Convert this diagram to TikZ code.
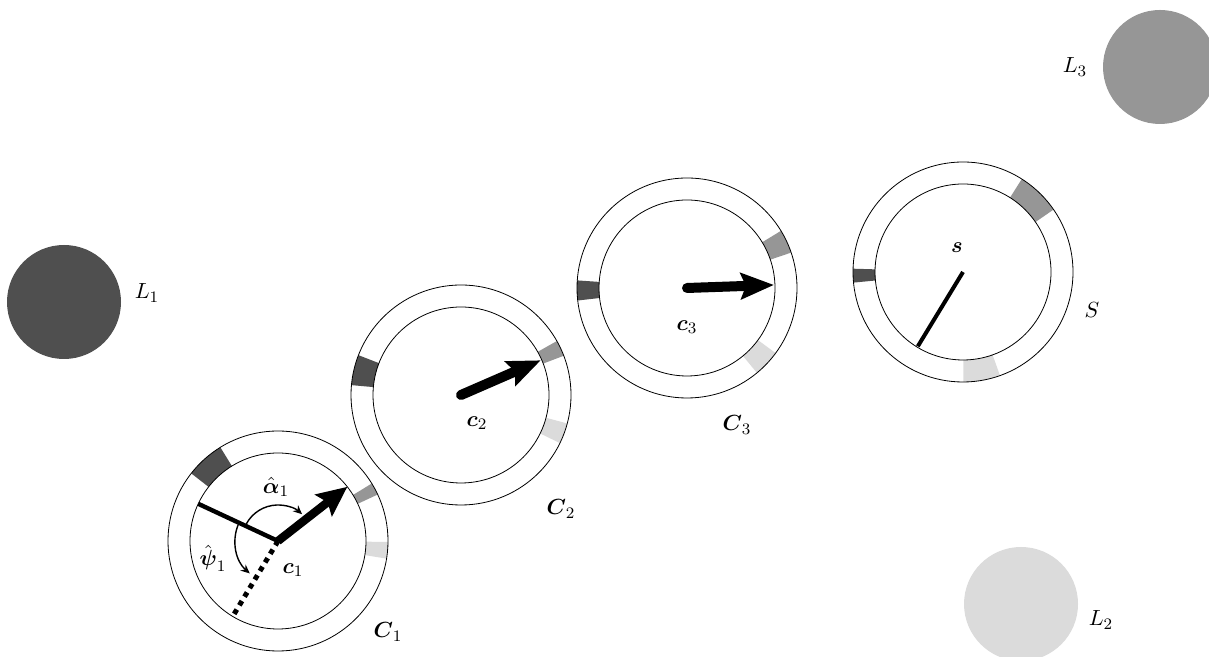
\documentclass[tikz,border=0pt]{standalone}
\usepackage{amsmath,amssymb}
\usetikzlibrary{arrows.meta,calc}

\definecolor{lampA}{gray}{0.31}
\definecolor{lampB}{gray}{0.59}
\definecolor{lampC}{gray}{0.86}

% coloured sector of a camera ring: the angular extent of a lamp (radius 57)
% as seen from the camera centre, drawn between radii 88 and 110
\newcommand\ringmark[3]{%
  \path[fill=#3] let \p1=(#1), \p2=(#2),
      \n1={atan2(\y2-\y1,\x2-\x1)},
      \n2={asin(28.5/veclen(\x2-\x1,\y2-\y1))} in
    (#1) ++(\n1-\n2:88) arc[start angle=\n1-\n2, end angle=\n1+\n2, radius=88]
    -- ++(\n1+\n2:22) arc[start angle=\n1+\n2, end angle=\n1-\n2, radius=110]
    -- cycle;%
}

\begin{document}
\begin{tikzpicture}[x=0.5pt,y=0.5pt,
  ring/.style={draw=black, line width=0.4pt},
  lbl/.style={inner sep=0pt, font=\fontsize{11pt}{13pt}\selectfont},
  pointer/.style={line width=5pt, line cap=round,
    -{Stealth[length=16.5pt,width=13pt,inset=2.5pt]}},
  pointerA/.style={line width=4.2pt,
    -{Stealth[length=15pt,width=13.5pt,inset=2.5pt]}},
  anglearc/.style={line width=0.7pt, -{Stealth[length=4.5pt,width=4pt]}},
]
\useasboundingbox (0,0) rectangle (1209,657);

% lamps
\coordinate (l1) at (64,355);
\coordinate (l2) at (1021,53);
\coordinate (l3) at (1160,590);
\fill[lampA] (l1) circle[radius=57];
\fill[lampC] (l2) circle[radius=57];
\fill[lampB] (l3) circle[radius=57];

% camera and sensor centres
\coordinate (c1) at (278,116);
\coordinate (c2) at (461,262);
\coordinate (c3) at (687,369);
\coordinate (s)  at (963,385);

% lamp sectors on the rings
\foreach \c in {c1,c2,c3,s}{
  \ringmark{\c}{l1}{lampA}
  \ringmark{\c}{l2}{lampC}
  \ringmark{\c}{l3}{lampB}
}

% rings
\foreach \c in {c1,c2,c3,s}{
  \draw[ring] (\c) circle[radius=110] (\c) circle[radius=88];
}

% camera 1: heading, reference and dotted direction
\path (c1) ++(38:88)   coordinate (t1);
\path (c1) ++(155:88)  coordinate (r1);
\path (c1) ++(239:86)  coordinate (d1);
\draw[line width=2.2pt] (c1) -- (r1);
\draw[line width=2.5pt, dash pattern=on 2.5pt off 2.5pt] (c1) -- (d1);
\draw[pointerA] (c1) -- (t1);
\draw[anglearc] (c1) ++(152:36) arc[start angle=152, end angle=48, radius=36];
\draw[anglearc] (c1) ++(158:43) arc[start angle=158, end angle=229, radius=43];

% cameras 2 and 3
\path (c2) ++(23.5:87) coordinate (t2);
\path (c3) ++(2:87)    coordinate (t3);
\draw[pointer] (c2) -- (t2);
\draw[pointer] (c3) -- (t3);

% sensor direction
\path (s) ++(238.7:87) coordinate (ts);
\draw[line width=2pt] (s) -- (ts);

% labels
\node[lbl] (la1) at (276,170) {$\hat{\boldsymbol{\alpha}}_1$};
\node[lbl] (lp1) at (213,99)  {$\hat{\boldsymbol{\psi}}_1$};
\node[lbl] (lc1) at (293,87)  {$\boldsymbol{c}_1$};
\node[lbl] (lC1) at (388,25)  {$\boldsymbol{C}_1$};
\node[lbl] (lc2) at (477,234) {$\boldsymbol{c}_2$};
\node[lbl] (lC2) at (561,148) {$\boldsymbol{C}_2$};
\node[lbl] (lc3) at (687,330) {$\boldsymbol{c}_3$};
\node[lbl] (lC3) at (737,232) {$\boldsymbol{C}_3$};
\node[lbl] (ls)  at (957,409) {$\boldsymbol{s}$};
\node[lbl] (lS)  at (1092,347) {$S$};
\node[lbl] (lL1) at (147,364) {$L_1$};
\node[lbl] (lL2) at (1101,37) {$L_2$};
\node[lbl] (lL3) at (1075,590) {$L_3$};
\end{tikzpicture}
\end{document}
